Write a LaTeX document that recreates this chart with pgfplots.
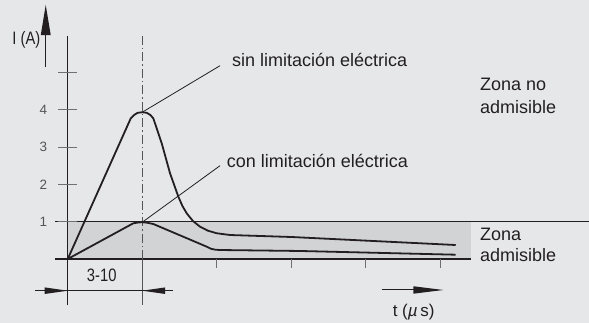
\documentclass[border=0pt]{standalone}
\usepackage{fontspec}
\setmainfont{Liberation Sans}
\usepackage{graphicx}
\usepackage{pgfplots}
\pgfplotsset{compat=1.18}

\definecolor{bg}{HTML}{E6E7E8}
\definecolor{zone}{HTML}{D2D3D5}
\definecolor{ink}{HTML}{231F20}
\definecolor{tickgray}{HTML}{707070}
\definecolor{labgray}{HTML}{555555}

\newcommand{\cond}[1]{\scalebox{0.82}[1]{#1}}
\tikzset{
    big/.style={font=\fontsize{18bp}{22bp}\selectfont, text=ink, inner sep=0pt},
    small/.style={font=\fontsize{13.5bp}{15bp}\selectfont, text=labgray, inner sep=0pt},
}

\begin{document}
\begin{tikzpicture}
\begin{axis}[
    scale only axis,
    width=589bp, height=323bp,
    xmin=-0.909, xmax=6.997,
    ymin=-1.716, ymax=6.944,
    hide axis,
    clip=false,
]
% background and admissible zone
\fill[bg] (rel axis cs:0,0) rectangle (rel axis cs:1,1);
\fill[zone] (0,0) rectangle (5.413,1);

% reference lines
\draw[ink, line width=1.2bp] (-0.170,0) -- (5.413,0);
\draw[ink, line width=1.2bp] (-0.170,1) -- (6.997,1);
\draw[ink, line width=1.2bp] (0,5.979) -- (0,-1.233);

% y ticks and labels
\pgfplotsinvokeforeach{1,...,5}{
    \draw[tickgray, line width=1bp] (-0.130,#1) -- (0.125,#1);
}
\pgfplotsinvokeforeach{1,...,4}{
    \node[small] at (-0.327,#1) {#1};
}

% x ticks
\pgfplotsinvokeforeach{2,...,5}{
    \draw[tickgray, line width=1bp] (#1,0) -- (#1,-0.241);
}

% dash-dot line at the peak
\draw[labgray, line width=0.9bp, dash pattern=on 9bp off 3bp on 1.5bp off 3bp] (1,5.979) -- (1,0);
\draw[labgray, line width=1bp] (1,0) -- (1,-1.233);

% 3-10 dimension
\draw[ink, line width=1bp] (-0.439,-0.850) -- (1.416,-0.850);
\fill[ink] (0,-0.850) -- (-0.309,-0.762) -- (-0.309,-0.938) -- cycle;
\fill[ink] (1,-0.850) -- (1.309,-0.762) -- (1.309,-0.938) -- cycle;
\node[big] at (0.456,-0.429) {\cond{3-10}};

% I (A) arrow
\draw[ink, line width=1.2bp] (-0.295,5.147) -- (-0.295,6.1);
\fill[ink] (-0.295,6.810) -- (-0.362,6.005) -- (-0.228,6.005) -- cycle;
\node[big, anchor=east] at (-0.365,5.885) {\cond{I (A)}};

% t arrow
\draw[ink, line width=1bp] (4.215,-0.831) -- (4.9,-0.831);
\fill[ink] (5.042,-0.831) -- (4.639,-0.731) -- (4.639,-0.931) -- cycle;
\node[font=\fontsize{17bp}{20bp}\selectfont, text=ink, inner sep=0pt] at (4.644,-1.421) {t ({\itshape µ}\,s)};

% curves
\addplot[ink, line width=1.8bp, line join=round] coordinates {
    (0,0) (0.846,3.77) (0.89,3.86) (0.94,3.92) (1.0,3.935) (1.06,3.92)
    (1.11,3.86) (1.149,3.77) (1.262,3.10) (1.373,2.30) (1.485,1.67)
    (1.54,1.42) (1.597,1.225) (1.68,1.02) (1.776,0.866) (1.88,0.76)
    (2.0,0.69) (2.18,0.643) (3.0,0.59) (5.208,0.375)
};
\addplot[ink, line width=1.8bp, line join=round] coordinates {
    (0,0) (0.88,0.957) (0.95,0.98) (1.0,0.985) (1.06,0.975) (1.149,0.938)
    (1.866,0.33) (1.92,0.275) (1.98,0.25) (2.04,0.241) (3.118,0.215) (5.208,0.115)
};

% leaders and annotations
\draw[ink, line width=0.8bp] (1,3.935) -- (2.044,5.182);
\draw[ink, line width=0.8bp] (1,0.985) -- (2.044,2.501);
\node[big, anchor=base west] at (2.205,5.174) {sin limitación eléctrica};
\node[big, anchor=base west] at (2.134,2.440) {con limitación eléctrica};
\node[big, anchor=base west] at (5.534,4.512) {Zona no};
\node[big, anchor=base west] at (5.534,3.906) {admisible};
\node[big, anchor=base west] at (5.534,0.509) {Zona};
\node[big, anchor=base west] at (5.534,-0.072) {admisible};
\end{axis}
\pgfresetboundingbox
\path (current axis.south west) rectangle (current axis.north east);
\end{tikzpicture}
\end{document}
